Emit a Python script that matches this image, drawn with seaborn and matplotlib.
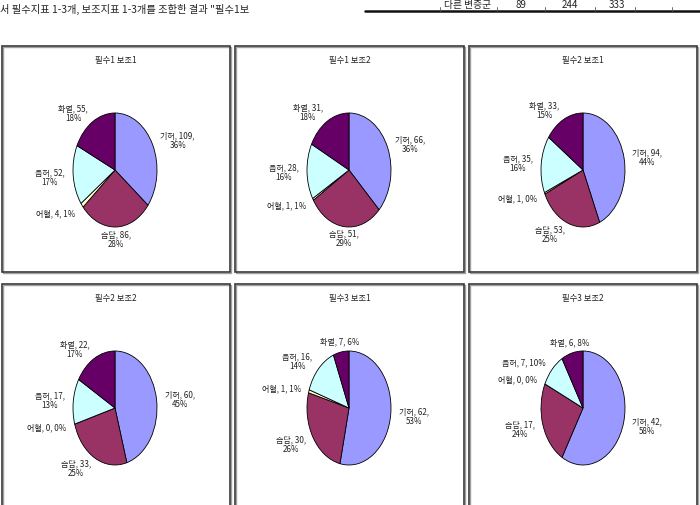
import matplotlib
matplotlib.use("Agg")
import matplotlib.pyplot as plt
from matplotlib.patches import Rectangle
import seaborn as sns

sns.set_theme(style="white")
plt.rcParams['font.family'] = ['Noto Sans CJK KR', 'DejaVu Sans']

# ---------------- 데이터 ----------------
categories = ["기허", "습담", "어혈", "음허", "화열"]
titles = ["필수1 보조1", "필수1 보조2", "필수2 보조1",
          "필수2 보조2", "필수3 보조1", "필수3 보조2"]

counts_p1b1 = [109, 86, 4, 52, 55]
counts_p1b2 = [66, 51, 1, 28, 31]
counts_p2b1 = [94, 53, 1, 35, 33]
counts_p2b2 = [60, 33, 0, 17, 22]
counts_p3b1 = [62, 30, 1, 16, 7]
counts_p3b2 = [42, 17, 0, 7, 6]

# 그림에 적힌 백분율 (원본 그대로)
pcts_p1b1 = [36, 28, 1, 17, 18]
pcts_p1b2 = [36, 29, 1, 16, 18]
pcts_p2b1 = [44, 25, 0, 16, 15]
pcts_p2b2 = [45, 25, 0, 13, 17]
pcts_p3b1 = [53, 26, 1, 14, 6]
pcts_p3b2 = [58, 24, 0, 10, 8]

all_counts = [counts_p1b1, counts_p1b2, counts_p2b1, counts_p2b2, counts_p3b1, counts_p3b2]
all_pcts = [pcts_p1b1, pcts_p1b2, pcts_p2b1, pcts_p2b2, pcts_p3b1, pcts_p3b2]

# 페이지 상단 잘린 본문/표
body_text = '서 필수지표 1-3개, 보조지표 1-3개를 조합한 결과 "필수1보'
table_row = ["다른 변증군", "89", "244", "333"]

colors = sns.color_palette(["#9999FF", "#993366", "#FFFFCC", "#CCFFFF", "#660066"])

# ---------------- 레이아웃 (픽셀) ----------------
W, H = 700, 506


def fx(x):
    return x / W


def fy(y):
    return 1 - y / H


fig = plt.figure(figsize=(W / 100, H / 100), dpi=100)
fig.patch.set_facecolor("white")

# 상단 본문 조각
fig.text(fx(0), fy(9), body_text, fontsize=7.4, color="#222222", va="center", ha="left")

# 상단 표 조각
table_x = [468, 521, 570, 617]
for i, s in enumerate(table_row):
    fig.text(fx(table_x[i]), fy(5), s, fontsize=7, color="#222222", va="center", ha="center")
fig.add_artist(plt.Line2D([fx(365), fx(700)], [fy(12), fy(12)], color="#111111", lw=1.8,
                          transform=fig.transFigure))
for sx in [440, 497, 545, 595, 635, 672]:
    fig.add_artist(plt.Line2D([fx(sx), fx(sx)], [fy(8), fy(12)], color="#555555", lw=0.6,
                              transform=fig.transFigure))

col_bounds = [(2, 230), (235, 464), (469, 697)]
row_bounds = [(47, 273), (285, 525)]
pie_cx = [115, 349, 583]
pie_cy = [171, 409]
rx, ry = 42, 57

for k in range(6):
    r, c = divmod(k, 3)
    x0, x1 = col_bounds[c]
    y0, y1 = row_bounds[r]

    # 패널 테두리 (그림자 + 본선)
    fig.add_artist(Rectangle((fx(x0 + 1), fy(y1 + 1)), (x1 - x0) / W, (y1 - y0) / H,
                             transform=fig.transFigure, fill=False,
                             edgecolor="#a0a0a0", lw=1.0))
    fig.add_artist(Rectangle((fx(x0), fy(y1)), (x1 - x0) / W, (y1 - y0) / H,
                             transform=fig.transFigure, fill=False,
                             edgecolor="#3a3a3a", lw=1.2))
    fig.text(fx((x0 + x1) / 2), fy(y0 + 14), titles[k], fontsize=6, color="#222222",
             ha="center", va="center")

    counts = all_counts[k]
    pcts = all_pcts[k]
    labels = []
    for name, v, p in zip(categories, counts, pcts):
        if v < 10:
            labels.append(f"{name}, {v}, {p}%")
        else:
            labels.append(f"{name}, {v},\n{p}%")

    cx, cy = pie_cx[c], pie_cy[r]
    ax = fig.add_axes([fx(cx - rx), fy(cy + ry), 2 * rx / W, 2 * ry / H])
    wedges, texts = ax.pie(counts, colors=colors, startangle=90, counterclock=False,
                           labels=labels, labeldistance=1.2,
                           wedgeprops=dict(edgecolor="black", linewidth=0.6),
                           textprops=dict(fontsize=5.8, color="#222222", linespacing=1.1))
    ax.set_aspect("auto")
    ax.set_xlim(-1, 1)
    ax.set_ylim(-1, 1)
    ax.axis("off")
    for t in texts:
        t.set_multialignment("center")
        tx, ty = t.get_position()
        if abs(tx) < 0.35:
            t.set_ha("center")

fig.savefig("out.png", dpi=100, facecolor="white")
